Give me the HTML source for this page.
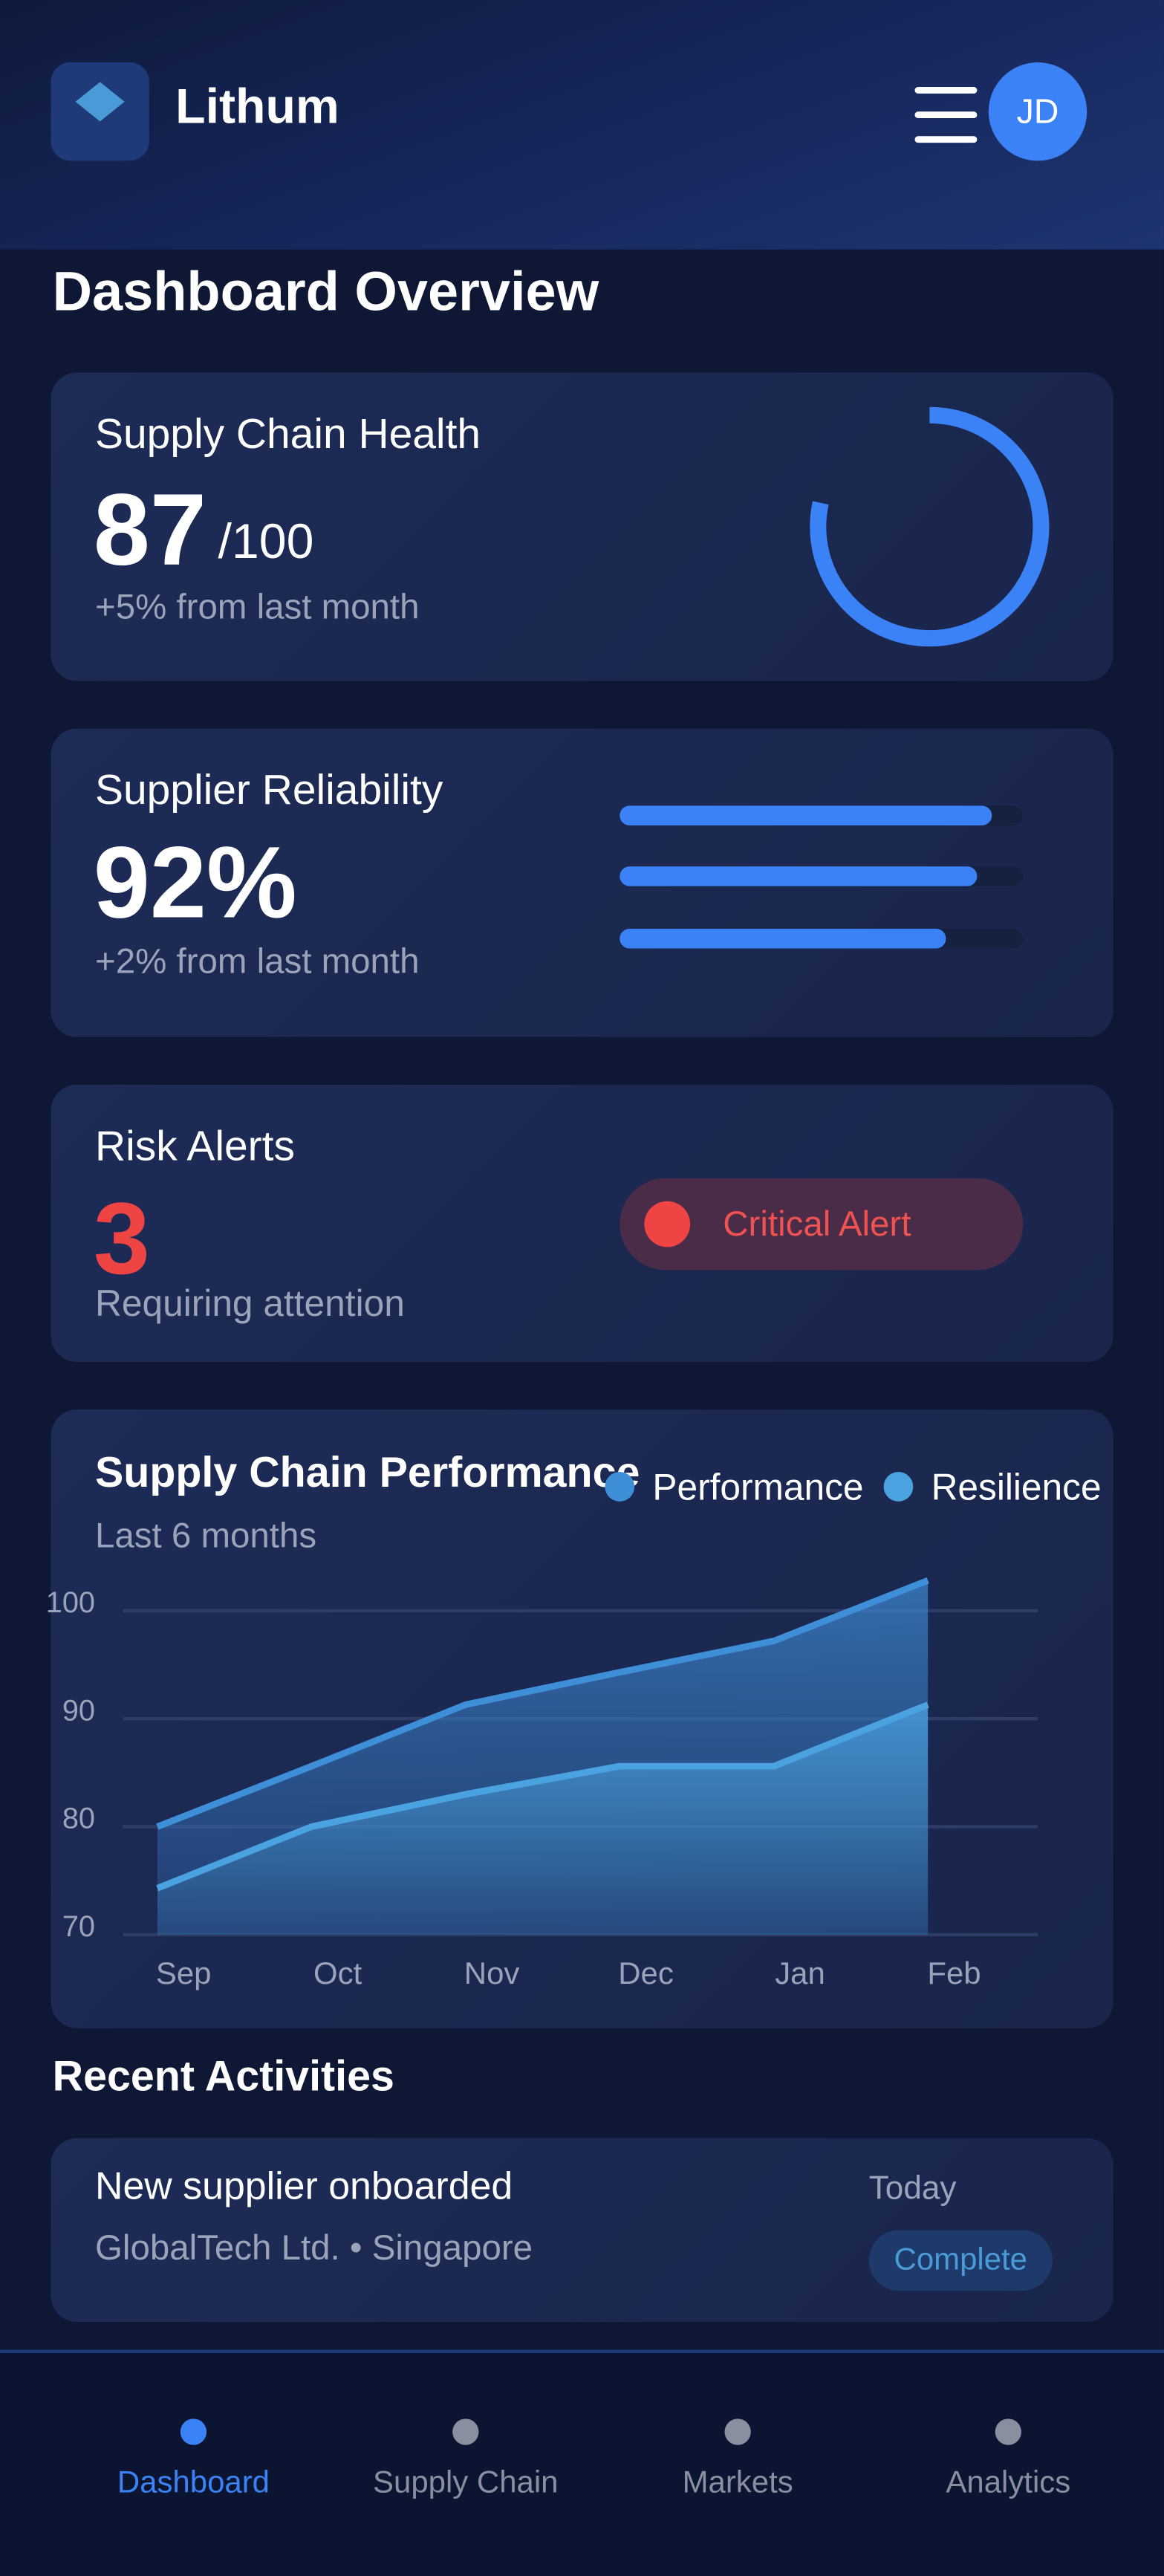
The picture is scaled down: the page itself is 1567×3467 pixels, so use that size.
<!DOCTYPE html>
<html><head><meta charset="utf-8"><style>
html,body{margin:0;padding:0;width:1567px;height:3463px;overflow:hidden;background:#0e1733;}
#root{position:absolute;left:0;top:0;width:710px;height:1568px;transform:scale(2.2070,2.2085);transform-origin:0 0;font-family:"Liberation Sans",sans-serif;color:#fff;background:#0e1733;}
.abs{position:absolute;}
.card{position:absolute;left:31px;width:648px;border-radius:16px;background:linear-gradient(135deg,#1d2b57,#19254b);}
.t{position:absolute;white-space:nowrap;line-height:1;}
.gray{color:#9aa3b8;}
</style></head><body>
<div id="root">
<div class="abs" style="left:0;top:0;width:710px;height:152px;background:linear-gradient(160deg,#0f1a3c 0%,#16265a 50%,#1e3470 100%);"></div>
<div class="abs" style="left:31px;top:38px;width:60px;height:60px;border-radius:12px;background:#1e3a78;">
  <svg class="abs" style="left:0;top:0" width="60" height="60"><polygon points="30,12 45,24 30,36 15,24" fill="#4a9ad8"/></svg>
</div>
<div class="t" style="left:107px;top:51px;font-size:30px;font-weight:bold;">Lithum</div>
<div class="abs" style="left:558px;top:53px;width:38px;height:36px;">
  <div class="abs" style="left:0;top:0;width:38px;height:4px;border-radius:2px;background:#fff"></div>
  <div class="abs" style="left:0;top:15px;width:38px;height:4px;border-radius:2px;background:#fff"></div>
  <div class="abs" style="left:0;top:30px;width:38px;height:4px;border-radius:2px;background:#fff"></div>
</div>
<div class="abs" style="left:603px;top:38px;width:60px;height:60px;border-radius:50%;background:#3b82f6;font-size:21px;text-align:center;line-height:62px;">JD</div>

<div class="t" style="left:32px;top:162px;font-size:33.5px;font-weight:bold;">Dashboard Overview</div>

<div class="card" style="top:227px;height:188px;">
  <div class="t" style="left:27px;top:26px;font-size:25.8px;">Supply Chain Health</div>
  <div class="t" style="left:26px;top:66px;font-size:62px;font-weight:bold;">87</div>
  <div class="t" style="left:102px;top:89px;font-size:30px;">/100</div>
  <div class="t gray" style="left:27px;top:133px;font-size:21.5px;">+5% from last month</div>
  <svg class="abs" style="left:460px;top:18px" width="155" height="155">
    <circle cx="76" cy="76" r="68" fill="none" stroke="#3b82f6" stroke-width="10" stroke-dasharray="335 428" transform="rotate(-90 76 76)"/>
  </svg>
</div>

<div class="card" style="top:444px;height:188px;">
  <div class="t" style="left:27px;top:26px;font-size:25.8px;">Supplier Reliability</div>
  <div class="t" style="left:26px;top:64px;font-size:62px;font-weight:bold;">92%</div>
  <div class="t gray" style="left:27px;top:132px;font-size:21.5px;">+2% from last month</div>
  <div class="abs" style="left:347px;top:47px;width:246px;height:12px;border-radius:6px;background:#16203f"><div style="width:227px;height:12px;border-radius:6px;background:#3b82f6"></div></div>
  <div class="abs" style="left:347px;top:84px;width:246px;height:12px;border-radius:6px;background:#16203f"><div style="width:218px;height:12px;border-radius:6px;background:#3b82f6"></div></div>
  <div class="abs" style="left:347px;top:122px;width:246px;height:12px;border-radius:6px;background:#16203f"><div style="width:199px;height:12px;border-radius:6px;background:#3b82f6"></div></div>
</div>

<div class="card" style="top:661px;height:169px;">
  <div class="t" style="left:27px;top:26px;font-size:25.8px;">Risk Alerts</div>
  <div class="t" style="left:26px;top:64px;font-size:62px;font-weight:bold;color:#ef4444;">3</div>
  <div class="t gray" style="left:27px;top:123px;font-size:22.5px;">Requiring attention</div>
  <div class="abs" style="left:347px;top:57px;width:246px;height:56px;border-radius:28px;background:#4a2c48;">
    <div class="abs" style="left:15px;top:14px;width:28px;height:28px;border-radius:50%;background:#ef4444"></div>
    <div class="t" style="left:63px;top:18px;font-size:21.5px;color:#f05252;">Critical Alert</div>
  </div>
</div>

<div class="card" style="top:859px;height:377px;">
  <div class="t" style="left:27px;top:25px;font-size:26px;font-weight:bold;">Supply Chain Performance</div>
  <div class="t gray" style="left:27px;top:67px;font-size:21.5px;">Last 6 months</div>
</div>
<svg class="abs" id="chart" style="left:0;top:859px" width="710" height="377"></svg>

<div class="t" style="left:32px;top:1252px;font-size:26px;font-weight:bold;">Recent Activities</div>
<div class="card" style="top:1303px;height:112px;">
  <div class="t" style="left:27px;top:18px;font-size:23.5px;">New supplier onboarded</div>
  <div class="t gray" style="left:27px;top:57px;font-size:21.5px;">GlobalTech Ltd. • Singapore</div>
  <div class="t gray" style="left:499px;top:21px;font-size:20px;">Today</div>
  <div class="abs" style="left:499px;top:56px;width:112px;height:37px;border-radius:19px;background:#1e3a6a;color:#4a9ad8;font-size:19px;text-align:center;line-height:37px;">Complete</div>
</div>

<div class="abs" style="left:0;top:1432px;width:710px;height:136px;background:#0b1430;border-top:2px solid #1e3a78;"></div>
<div class="abs" style="left:110px;top:1474px;width:16px;height:16px;border-radius:50%;background:#3b82f6"></div>
<div class="abs" style="left:276px;top:1474px;width:16px;height:16px;border-radius:50%;background:#8a8fa0"></div>
<div class="abs" style="left:442px;top:1474px;width:16px;height:16px;border-radius:50%;background:#8a8fa0"></div>
<div class="abs" style="left:607px;top:1474px;width:16px;height:16px;border-radius:50%;background:#8a8fa0"></div>
<div class="t" style="left:118px;top:1504px;transform:translateX(-50%);font-size:19px;color:#3b82f6;">Dashboard</div>
<div class="t" style="left:284px;top:1504px;transform:translateX(-50%);font-size:19px;color:#8a8fa0;">Supply Chain</div>
<div class="t" style="left:450px;top:1504px;transform:translateX(-50%);font-size:19px;color:#8a8fa0;">Markets</div>
<div class="t" style="left:615px;top:1504px;transform:translateX(-50%);font-size:19px;color:#8a8fa0;">Analytics</div>
</div>
<script>
const months = ["Sep","Oct","Nov","Dec","Jan","Feb"];
const performance = [80, 85.6, 91.3, 94.3, 97.2, 102.8];
const resilience = [74.3, 80, 83, 85.6, 85.6, 91.3];
const yTicks = [70, 80, 90, 100];
const seriesNames = ["Performance","Resilience"];
const NS = "http://www.w3.org/2000/svg";
const svg = document.getElementById("chart");
const x = i => 96 + i * 94;
const y = v => 320 - (v - 70) * 6.58;
function mk(tag, attrs){const e=document.createElementNS(NS,tag);for(const k in attrs)e.setAttribute(k,attrs[k]);svg.appendChild(e);return e;}
const defs = mk("defs",{});
defs.innerHTML = '<linearGradient id="gp" x1="0" y1="0" x2="0" y2="1"><stop offset="0" stop-color="#3d84cc" stop-opacity="0.75"/><stop offset="1" stop-color="#2a5a9a" stop-opacity="0.45"/></linearGradient><linearGradient id="gr" x1="0" y1="0" x2="0" y2="1"><stop offset="0" stop-color="#4aa3e0" stop-opacity="0.75"/><stop offset="1" stop-color="#4aa3e0" stop-opacity="0.1"/></linearGradient>';
yTicks.forEach(v=>{
  const l = mk("line",{x1:75,x2:633,y1:y(v),y2:y(v),stroke:"#2f3d66","stroke-width":2});
  
  
  const t = mk("text",{x:58,y:y(v)+1,"text-anchor":"end","font-size":18,fill:"#9aa3b8","font-family":"Liberation Sans, sans-serif"});
  t.textContent = v;
  
  
});
months.forEach((m,i)=>{
  const t = mk("text",{x:x(i)+16,y:350,"text-anchor":"middle","font-size":19,fill:"#9aa3b8","font-family":"Liberation Sans, sans-serif"});
  t.textContent = m;
  
  
});
function area(vals, fill, stroke, name){
  const pts = vals.map((v,i)=>x(i)+","+y(v)).join(" ");
  const a = mk("polygon",{points:x(0)+","+y(70)+" "+pts+" "+x(vals.length-1)+","+y(70),fill:fill});
  
  
  const l = mk("polyline",{points:pts,fill:"none",stroke:stroke,"stroke-width":4,"stroke-linejoin":"round"});
  
  
}
area(performance,"url(#gp)","#3f8fd8","performance");
area(resilience,"url(#gr)","#4aa3e0","resilience");
const legendColors = ["#3f8fd8","#4aa3e0"];
const legendX = [378,548];
seriesNames.forEach((n,i)=>{
  const c = mk("circle",{cx:legendX[i],cy:47,r:9,fill:legendColors[i]});
  
  
  const t = mk("text",{x:legendX[i]+20,y:55,"font-size":22.5,fill:"#fff","font-family":"Liberation Sans, sans-serif"});
  t.textContent = n;
  
  
});
</script>
</body></html>
